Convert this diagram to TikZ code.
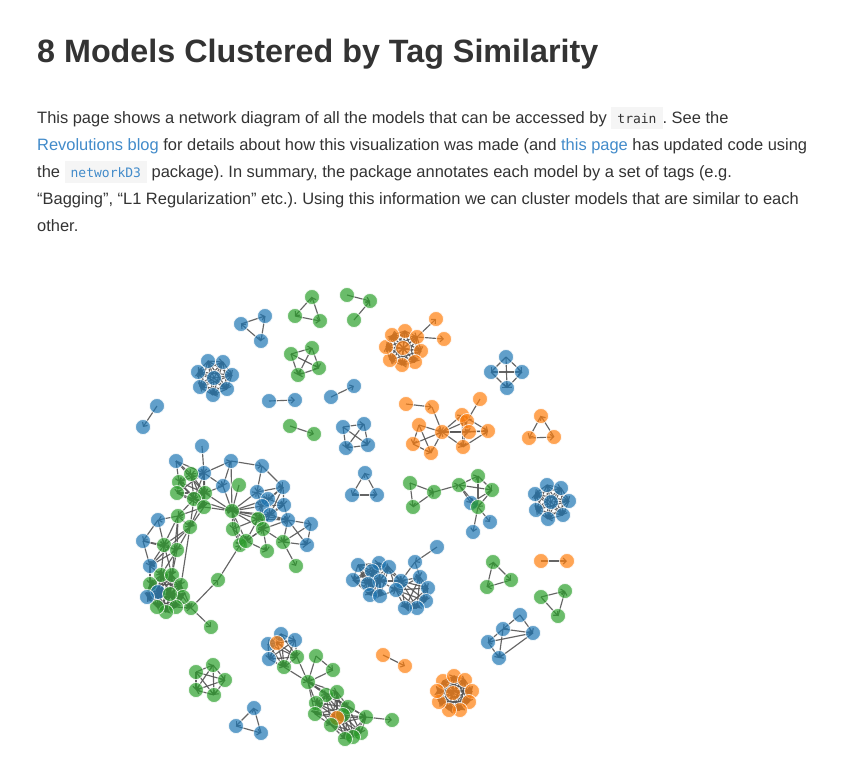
\documentclass[tikz,border=0pt]{standalone}
\usepackage{fontspec}
\setmainfont{Liberation Sans}
\setmonofont{DejaVu Sans Mono}
\usetikzlibrary{arrows.meta}
\frenchspacing
\definecolor{textc}{HTML}{333333}
\definecolor{lnk}{HTML}{428BCA}
\definecolor{codebg}{HTML}{F5F5F5}
\definecolor{cb}{HTML}{1F77B4}
\definecolor{co}{HTML}{FF7F0E}
\definecolor{cg}{HTML}{2CA02C}
\definecolor{edgec}{HTML}{555555}
\pgfdeclarelayer{bglayer}
\pgfdeclarelayer{edgelayer}
\pgfsetlayers{bglayer,edgelayer,main}
\tikzset{
  nd/.style={circle,minimum size=15pt,inner sep=0pt,fill opacity=0.7,draw=white,draw opacity=0.8,line width=0.8pt},
  nblue/.style={nd,fill=cb}, norange/.style={nd,fill=co}, ngreen/.style={nd,fill=cg},
  edge/.style={draw=edgec,line width=1.15pt,draw opacity=0.9,-{Straight Barb[length=3pt,width=6pt]}},
  txt/.style={anchor=base west,inner sep=0pt,text=textc,font=\fontsize{16.45}{20}\selectfont}
}
\newcommand\ndB[3]{\node[nblue] (#1) at (#2,#3) {};}
\newcommand\ndO[3]{\node[norange] (#1) at (#2,#3) {};}
\newcommand\ndG[3]{\node[ngreen] (#1) at (#2,#3) {};}
\newcommand\edges[1]{\foreach \u/\v in {#1}{\draw[edge] (\u.center) -- (\v.center);}}
\newcommand\clq[1]{\foreach \u [count=\i] in {#1}{\foreach \v [count=\j] in {#1}{\ifnum\i<\j\relax\draw[edge] (\u.center) -- (\v.center);\fi}}}
\newcommand\code[1]{{\setlength{\fboxsep}{0pt}\colorbox{codebg}{\rule[-6pt]{0pt}{22pt}\hspace{6pt}{\ttfamily\fontsize{13}{14}\selectfont #1}\hspace{6pt}}}}
\begin{document}
\begin{tikzpicture}[x=1pt,y=-1pt]
\begin{pgfonlayer}{bglayer}
\fill[white] (0,0) rectangle (845,764);
\end{pgfonlayer}
\useasboundingbox (0,0) rectangle (845,764);
% text
\node[txt,font=\fontsize{32.3}{38}\selectfont\bfseries] (title) at (37,62) {8 Models Clustered by Tag Similarity};
\node[txt] (l1) at (37,123) {This page shows a network diagram of all the models that can be accessed by \code{train}. See the};
\node[txt] (l2) at (37,150) {\textcolor{lnk}{Revolutions blog} for details about how this visualization was made (and \textcolor{lnk}{this page} has updated code using};
\node[txt] (l3) at (37,177) {the \code{\color{lnk}networkD3} package). In summary, the package annotates each model by a set of tags (e.g.};
\node[txt] (l4) at (37,204) {“Bagging”, “L1 Regularization” etc.). Using this information we can cluster models that are similar to each};
\node[txt] (l5) at (37,231) {other.};
% nodes
\ndB{a1}{143}{427}\ndB{a2}{157}{406}
\ndB{b0}{214}{378}\ndB{b1}{208}{361}\ndB{b2}{223}{362}\ndB{b3}{232}{375}\ndB{b4}{227}{389}\ndB{b5}{213}{395}\ndB{b6}{200}{387}\ndB{b7}{198}{372}
\ndB{c1}{241}{324}\ndB{c2}{265}{316}\ndB{c3}{261}{341}
\ndG{d1}{312}{297}\ndG{d2}{295}{316}\ndG{d3}{320}{321}
\ndG{e1}{347}{295}\ndG{e2}{370}{301}\ndG{e3}{354}{320}
\ndG{f1}{291}{354}\ndG{f2}{312}{348}\ndG{f3}{319}{368}\ndG{f4}{298}{375}
\ndB{g1}{269}{401}\ndB{g2}{295}{400}
\ndB{h1}{331}{397}\ndB{h2}{354}{386}
\ndG{i1}{290}{426}\ndG{i2}{314}{434}
\ndB{j1}{343}{427}\ndB{j2}{364}{424}\ndB{j3}{368}{445}\ndB{j4}{346}{448}
\ndO{k0}{403}{348}\ndO{k1}{405}{331}\ndO{k2}{417}{337}\ndO{k3}{421}{351}\ndO{k4}{415}{362}\ndO{k5}{402}{365}\ndO{k6}{390}{360}\ndO{k7}{386}{347}\ndO{k8}{392}{335}\ndO{k9}{436}{319}\ndO{k10}{444}{339}
\ndB{l1n}{506}{357}\ndB{l2n}{491}{372}\ndB{l3n}{522}{372}\ndB{l4n}{507}{388}
\ndO{m1}{406}{404}\ndO{m2}{432}{407}\ndO{m3}{442}{432}\ndO{m4}{419}{425}\ndO{m5}{413}{444}\ndO{m6}{431}{453}\ndO{m7}{462}{415}\ndO{m8}{467}{421}\ndO{m9}{469}{432}\ndO{m10}{480}{399}\ndO{m11}{488}{431}\ndO{m12}{463}{447}
\ndO{n1}{541}{416}\ndO{n2}{529}{438}\ndO{n3}{554}{437}
\ndB{o1}{365}{473}\ndB{o2}{352}{495}\ndB{o3}{377}{495}
\ndG{p1}{410}{483}\ndG{p2}{413}{507}\ndG{p3}{434}{492}\ndG{p4}{459}{485}\ndG{p5}{478}{476}\ndG{p6}{492}{490}\ndB{p7}{471}{503}\ndG{p8}{478}{507}\ndB{p9}{490}{522}\ndB{p10}{473}{532}
\ndB{q0}{551}{502}\ndB{q1}{547}{485}\ndB{q2}{561}{488}\ndB{q3}{569}{501}\ndB{q4}{563}{515}\ndB{q5}{548}{519}\ndB{q6}{536}{510}\ndB{q7}{535}{494}
% big left cluster
\ndB{r1}{202}{446}\ndB{r2}{176}{461}\ndB{r3}{204}{473}\ndB{r4}{231}{461}\ndB{r5}{262}{466}
\ndG{r6}{191}{474}\ndG{r7}{179}{482}\ndG{r8}{177}{493}\ndG{r9}{205}{493}\ndG{r10}{194}{499}\ndG{r11}{204}{507}
\ndB{r12}{223}{486}\ndG{r13}{239}{485}\ndG{r14}{232}{511}
\ndB{r15}{257}{492}\ndB{r16}{283}{487}\ndB{r17}{268}{499}\ndB{r18}{262}{506}\ndB{r19}{284}{505}\ndB{r20}{270}{515}
\ndG{r21}{258}{519}\ndG{r22}{263}{529}\ndB{r23}{288}{520}\ndB{r24}{311}{524}\ndB{r25}{307}{545}\ndG{r26}{283}{542}
\ndG{r27}{233}{529}\ndG{r28}{240}{545}\ndG{r29}{246}{541}\ndG{r30}{267}{551}\ndG{r31}{296}{566}
\ndG{r32}{178}{516}\ndG{r33}{190}{527}\ndB{r34}{158}{520}\ndB{r35}{143}{541}\ndG{r36}{164}{545}\ndG{r37}{177}{550}\ndB{r38}{150}{566}
\ndG{r39}{218}{580}\ndG{r40}{191}{608}\ndG{r41}{211}{627}
\ndG{w1}{161}{575}\ndG{w2}{172}{575}\ndG{w3}{181}{585}\ndG{w4}{183}{597}\ndG{w5}{176}{607}\ndG{w6}{166}{612}\ndG{w7}{157}{607}\ndG{w8}{150}{584}\ndB{w9}{158}{592}\ndG{w10}{170}{594}\ndB{w11}{147}{597}
% center blue
\ndB{s1}{437}{547}\ndB{s2}{415}{562}\ndB{s3}{358}{565}\ndB{s4}{379}{563}\ndB{s5}{389}{567}\ndB{s6}{372}{571}\ndB{s7}{353}{580}\ndB{s8}{380}{581}\ndB{s9}{368}{584}\ndB{s10}{401}{581}\ndB{s11}{396}{590}\ndB{s12}{370}{595}\ndB{s13}{380}{596}\ndB{s14}{420}{577}\ndB{s15}{428}{588}\ndB{s16}{426}{601}\ndB{s17}{417}{608}\ndB{s18}{405}{608}
\ndG{t1}{493}{562}\ndG{t2}{511}{580}\ndG{t3}{487}{587}
\ndO{u1}{541}{561}\ndO{u2}{567}{561}
\ndG{v1}{565}{591}\ndG{v2}{541}{597}\ndG{v3}{558}{616}
\ndB{x1}{520}{615}\ndB{x2}{503}{629}\ndB{x3}{533}{633}\ndB{x4}{488}{642}\ndB{x5}{499}{658}
\ndO{y0}{453}{693}\ndO{y1}{443}{681}\ndO{y2}{454}{676}\ndO{y3}{465}{680}\ndO{y4}{472}{691}\ndO{y5}{469}{702}\ndO{y6}{460}{710}\ndO{y7}{449}{710}\ndO{y8}{439}{702}\ndO{y9}{437}{691}
\ndG{z1}{196}{672}\ndG{z2}{213}{665}\ndG{z3}{225}{680}\ndG{z4}{214}{695}\ndG{z5}{196}{690}
\ndB{aa1}{254}{708}\ndB{aa2}{236}{726}\ndB{aa3}{261}{733}
\ndB{bb1}{281}{634}\ndB{bb2}{295}{640}\ndB{bb3}{268}{644}\ndO{bb4}{277}{643}\ndB{bb5}{269}{659}\ndG{bb6}{297}{657}\ndG{bb7}{284}{667}
\ndG{bb8}{316}{656}\ndG{bb9}{333}{670}\ndG{bb10}{308}{682}
\ndG{bb11}{326}{695}\ndG{bb12}{337}{692}\ndG{bb13}{316}{703}\ndG{bb14}{315}{714}\ndG{bb15}{348}{707}\ndG{bb23}{343}{715}\ndO{bb16}{337}{718}\ndG{bb17}{331}{725}\ndG{bb18}{366}{717}\ndG{bb19}{392}{720}\ndG{bb20}{361}{733}\ndG{bb21}{353}{737}\ndG{bb22}{345}{739}
\ndO{cc1}{383}{655}\ndO{cc2}{405}{666}
% edges
\begin{pgfonlayer}{edgelayer}
\edges{a2/a1}
\clq{b0,b1,b2,b3,b4,b5,b6,b7}
\edges{c1/c2,c2/c3,c3/c1}
\edges{d1/d2,d2/d3,d3/d1}
\edges{e1/e2,e3/e2}
\clq{f1,f2,f3,f4}
\edges{g1/g2,h1/h2,i1/i2}
\clq{j1,j2,j3,j4}
\clq{k0,k1,k2,k3,k4,k5,k6,k7,k8}
\edges{k2/k9,k2/k10}
\clq{l1n,l2n,l3n,l4n}
\edges{m1/m2,m2/m3,m4/m3,m5/m3,m6/m3,m4/m5,m4/m6,m5/m6,m3/m7,m3/m8,m3/m9,m3/m11,m3/m12,m10/m8,m7/m11,m7/m12,m8/m12,m9/m11,m12/m11,m7/m9}
\edges{n1/n2,n2/n3,n3/n1}
\edges{o1/o2,o2/o3,o3/o1}
\edges{p1/p2,p1/p3,p2/p3,p3/p4,p4/p5,p4/p6,p4/p7,p4/p8,p5/p6,p5/p8,p6/p7,p6/p8,p7/p8,p8/p9,p8/p10}
\clq{q0,q1,q2,q3,q4,q5,q6,q7}
\edges{r1/r3,r2/r3,r2/r6,r2/r7,r2/r9,r3/r4,r3/r6,r3/r7,r3/r9,r3/r10,r3/r11,r3/r12,r3/r8,r4/r5,r4/r12,r4/r14,r5/r15,r5/r16,
 r6/r7,r6/r9,r6/r10,r6/r11,r7/r8,r7/r10,r7/r9,r7/r11,r8/r10,r8/r11,r8/r9,r9/r10,r9/r11,r9/r14,r10/r11,r10/r14,
 r11/r14,r11/r32,r11/r33,r10/r32,r10/r33,r9/r33,r12/r14,r12/r9,r13/r14,
 r14/r15,r14/r17,r14/r18,r14/r20,r14/r21,r14/r22,r14/r27,r14/r28,r14/r29,r14/r23,
 r15/r16,r15/r17,r15/r18,r16/r17,r16/r18,r16/r19,r16/r20,r17/r19,r17/r20,r18/r19,r18/r21,r18/r22,r19/r20,r19/r23,r19/r21,r20/r21,r20/r22,r20/r23,r21/r22,r21/r23,r22/r23,r22/r26,r21/r29,r22/r29,r22/r30,
 r23/r24,r23/r25,r24/r25,r23/r26,r26/r25,r24/r26,r26/r31,r27/r28,r27/r29,r28/r29,r29/r30,r27/r21,r28/r22,
 r32/r33,r32/r34,r32/r36,r32/r37,r33/r36,r33/r37,r33/r38,r34/r35,r34/r36,r35/r36,r35/r37,r35/r38,r36/r37,r36/r38,r37/r38,
 r36/w1,r36/w2,r37/w1,r37/w2,r38/w1,r38/w8,r32/w2,r33/w3,
 w3/r40,w4/r40,w5/r40,w10/r40,r40/r39,r39/r28,r40/r41}
\clq{w1,w2,w3,w4,w5,w6,w7,w8,w9,w10,w11}
\edges{s1/s2,s2/s10,s2/s14,s5/s10,s8/s10,s8/s11,s13/s11,s5/s11,s4/s10}
\clq{s3,s4,s5,s6,s7,s8,s9,s12,s13}
\clq{s10,s11,s14,s15,s16,s17,s18}
\edges{t1/t2,t2/t3,t3/t1,u1/u2,v2/v1,v2/v3,v3/v1}
\edges{x1/x2,x1/x3,x2/x3,x2/x4,x4/x5,x2/x5,x3/x5,x3/x4}
\clq{y0,y1,y2,y3,y4,y5,y6,y7,y8,y9}
\clq{z1,z2,z3,z4,z5}
\edges{aa1/aa2,aa2/aa3,aa3/aa1}
\clq{bb1,bb2,bb3,bb4,bb5,bb6,bb7}
\edges{bb6/bb10,bb7/bb10,bb8/bb10,bb9/bb10,bb8/bb9,bb10/bb11,bb10/bb12,bb10/bb13,bb10/bb14,bb10/bb15,bb10/bb18,bb18/bb19}
\clq{bb11,bb12,bb13,bb14,bb15,bb16,bb17,bb23}
\clq{bb15,bb16,bb17,bb18,bb20,bb21,bb22,bb23}
\edges{cc1/cc2}
\end{pgfonlayer}
\end{tikzpicture}
\end{document}
